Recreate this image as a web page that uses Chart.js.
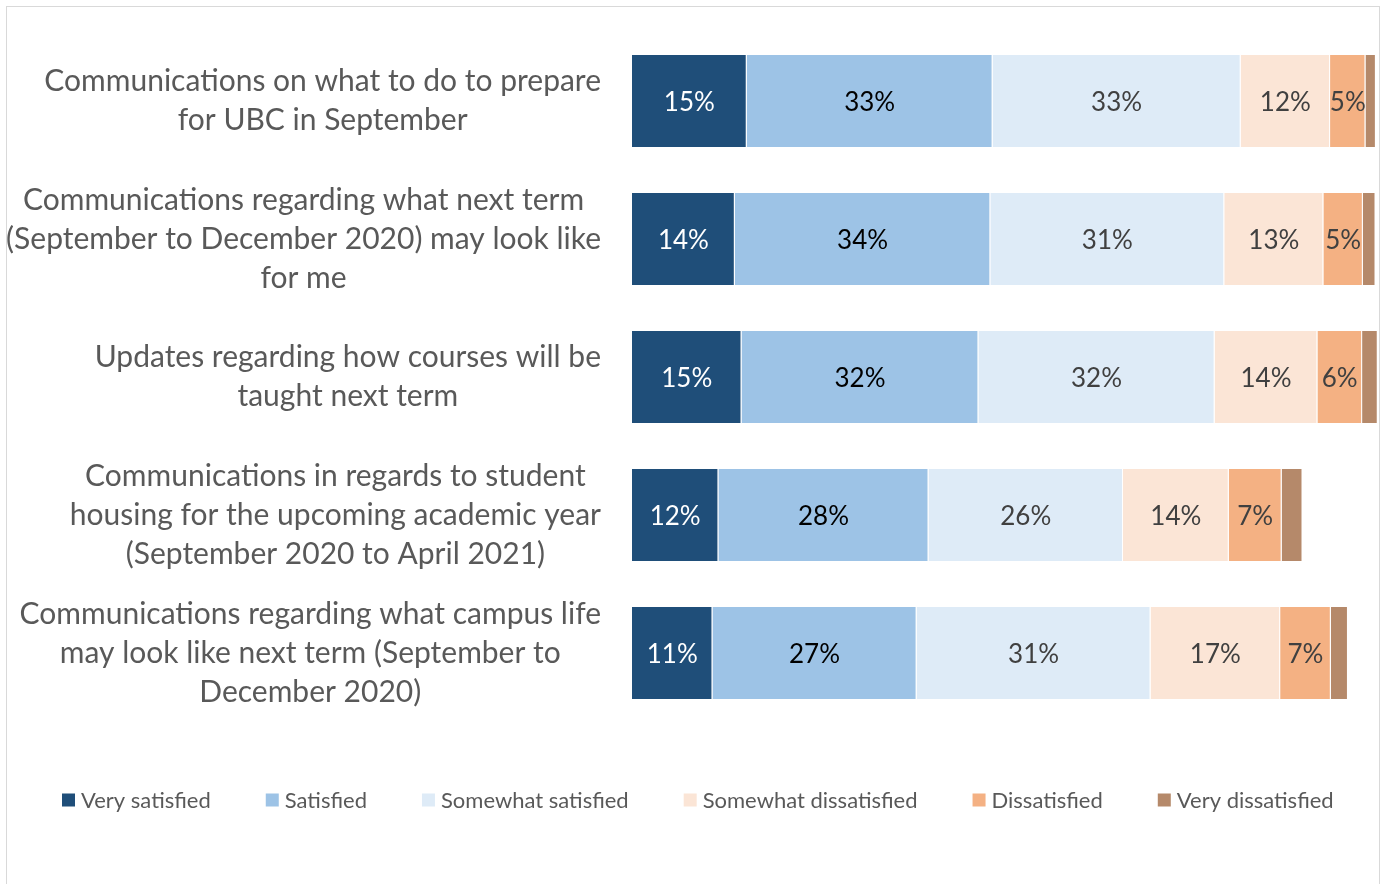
<!DOCTYPE html>
<html>
<head>
<meta charset="utf-8">
<script src="https://cdn.jsdelivr.net/npm/chart.js@4.4.1/dist/chart.umd.min.js"></script>
<style>
  html, body { margin: 0; padding: 0; background: #ffffff; }
  #wrap { position: relative; width: 1380px; height: 884px; overflow: hidden; }
  #frame { position: absolute; left: 6px; top: 6px; width: 1374px; height: 900px; border: 1px solid #d9d9d9; box-sizing: border-box; pointer-events: none; }
  #c { position: absolute; left: 0; top: 0; }
</style>
</head>
<body>
<div id="wrap">
  <canvas id="c" width="1380" height="884"></canvas>
  <div id="frame"></div>
</div>
<script>
// ---- data ----
const categories = [
  ["Communications on what to do to prepare", "for UBC in September"],
  ["Communications regarding what next term", "(September to December 2020) may look like", "for me"],
  ["Updates regarding how courses will be", "taught next term"],
  ["Communications in regards to student", "housing for the upcoming academic year", "(September 2020 to April 2021)"],
  ["Communications regarding what campus life", "may look like next term (September to", "December 2020)"]
];
const seriesNames = ["Very satisfied", "Satisfied", "Somewhat satisfied", "Somewhat dissatisfied", "Dissatisfied", "Very dissatisfied"];
const verySatisfied        = [15.4, 13.8, 14.7, 11.6, 10.8];
const satisfied            = [33.0, 34.3, 31.8, 28.2, 27.4];
const somewhatSatisfied    = [33.3, 31.4, 31.7, 26.1, 31.4];
const somewhatDissatisfied = [12.0, 13.3, 13.8, 14.2, 17.4];
const dissatisfied         = [4.75, 5.3, 6.0, 7.1, 6.8];
const veryDissatisfied     = [1.4, 1.7, 2.1, 2.8, 2.3];
const seriesValues = [verySatisfied, satisfied, somewhatSatisfied, somewhatDissatisfied, dissatisfied, veryDissatisfied];

// ---- styles ----
const seriesColors = ["#1F4E79", "#9DC3E6", "#DEEBF7", "#FBE5D6", "#F4B183", "#B5896A"];
const labelColors  = ["#FFFFFF", "#000000", "#404040", "#404040", "#404040", null];
const FONT = "Lato, 'Open Sans', sans-serif";

const valueLabels = {
  id: 'valueLabels',
  afterDatasetsDraw(chart) {
    const ctx = chart.ctx;
    ctx.save();
    ctx.font = "26px " + FONT;
    ctx.textAlign = 'center';
    ctx.textBaseline = 'middle';
    chart.data.datasets.forEach((ds, di) => {
      if (!labelColors[di]) return;
      const meta = chart.getDatasetMeta(di);
      ctx.fillStyle = labelColors[di];
      meta.data.forEach((bar, i) => {
        const p = bar.getProps(['x', 'y', 'base'], true);
        ctx.fillText(Math.round(ds.data[i]) + '%', (p.x + p.base) / 2, p.y + 2);
      });
    });
    ctx.restore();
  }
};

const categoryLabels = {
  id: 'categoryLabels',
  afterDraw(chart) {
    const ctx = chart.ctx;
    const ys = chart.scales.y;
    const rightEdge = chart.chartArea.left - 31;
    const lh = 39;
    ctx.save();
    ctx.font = "30px " + FONT;
    ctx.fillStyle = '#595959';
    ctx.textAlign = 'center';
    ctx.textBaseline = 'middle';
    categories.forEach((lines, i) => {
      const yc = ys.getPixelForValue(i);
      const widest = Math.max(...lines.map(l => ctx.measureText(l).width));
      const cx = rightEdge - widest / 2;
      lines.forEach((l, k) => {
        ctx.fillText(l, cx, yc - (lines.length - 1) * lh / 2 + k * lh);
      });
    });
    ctx.restore();
  }
};

// legend drawn in a single row under the chart (items separated by a fixed gap)
const bottomLegend = {
  id: 'bottomLegend',
  afterDraw(chart) {
    const ctx = chart.ctx;
    const box = 13, gapText = 6, gapItem = 55;
    const yc = chart.chartArea.bottom + 78;
    let x = 62;
    ctx.save();
    ctx.font = "22px " + FONT;
    ctx.textAlign = 'left';
    ctx.textBaseline = 'middle';
    chart.data.datasets.forEach((ds) => {
      ctx.fillStyle = ds.backgroundColor;
      ctx.fillRect(x, yc - box / 2, box, box);
      ctx.fillStyle = '#595959';
      ctx.fillText(ds.label, x + box + gapText, yc + 1);
      x += box + gapText + ctx.measureText(ds.label).width + gapItem;
    });
    ctx.restore();
  }
};

new Chart(document.getElementById('c'), {
  type: 'bar',
  data: {
    labels: categories.map(c => c.join(' ')),
    datasets: seriesNames.map((n, i) => ({
      label: n,
      data: seriesValues[i],
      backgroundColor: seriesColors[i],
      borderColor: 'rgba(255,255,255,0.7)',
      borderWidth: { left: 0, right: 1, top: 0, bottom: 0 },
      borderSkipped: false,
      categoryPercentage: 1,
      barPercentage: 92 / 138
    }))
  },
  options: {
    indexAxis: 'y',
    responsive: false,
    animation: false,
    layout: { padding: { left: 0, right: 3, top: 32, bottom: 162 } },
    scales: {
      x: {
        display: false,
        stacked: true, min: 0, max: 100
      },
      y: {
        stacked: true,
        grid: { display: false }, border: { display: false },
        ticks: { display: false },
        afterFit(s) { s.width = 632; }
      }
    },
    plugins: {
      tooltip: { enabled: false },
      legend: { display: false }
    }
  },
  plugins: [valueLabels, categoryLabels, bottomLegend]
});
</script>
</body>
</html>
